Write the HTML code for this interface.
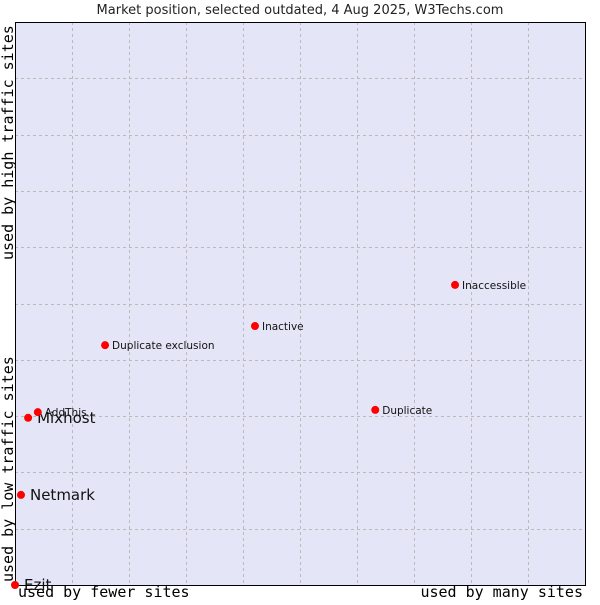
<!DOCTYPE html>
<html><head><meta charset="utf-8"><style>
body{margin:0;background:#fff;width:600px;height:600px;overflow:hidden}
svg text{font-family:"DejaVu Sans","Liberation Sans",sans-serif}
.mono{font-family:"DejaVu Sans Mono","Liberation Mono",monospace;font-size:15px}
</style></head><body>
<svg id="chart" width="600" height="600" xmlns="http://www.w3.org/2000/svg">
<text x="300" y="14" text-anchor="middle" font-size="13" fill="#222">Market position, selected outdated, 4 Aug 2025, W3Techs.com</text>
<rect x="15" y="22" width="570" height="563" fill="#e4e6f8"/>
<g id="grid"></g>
<rect x="15.5" y="22.5" width="570" height="563" fill="none" stroke="#000"/>
<text class="mono" x="18" y="597">used by fewer sites</text>
<text class="mono" x="583" y="597" text-anchor="end">used by many sites</text>
<text class="mono" transform="translate(13,582) rotate(-90)">used by low traffic sites</text>
<text class="mono" transform="translate(13,260) rotate(-90)">used by high traffic sites</text>
<g id="points"></g>
</svg>
<script>
const names=["Ezit","Netmark","Mixhost","AddThis","Duplicate exclusion","Inactive","Duplicate","Inaccessible"];
const xVals=[0,1.05,2.3,4.0,15.8,42.1,63.2,77.2];
const yVals=[0,16,29.7,30.7,42.6,46,31.1,53.3];
const bigLabel=[true,true,true,false,false,false,false,false];
const L=15,T=22,W=570,H=563;
const sx=v=>L+v/100*W, sy=v=>T+H-v/100*H;
const NS="http://www.w3.org/2000/svg";
const g=document.getElementById('grid');
for(let i=1;i<10;i++){
  const x=Math.round(sx(i*10))+0.5, y=Math.round(sy(i*10))+0.5;
  const a=document.createElementNS(NS,'line');
  
  
  a.setAttribute('x1',x);a.setAttribute('x2',x);a.setAttribute('y1',T);a.setAttribute('y2',T+H);
  a.setAttribute('stroke','#bbb');a.setAttribute('stroke-dasharray','3,3');g.appendChild(a);
  const b=document.createElementNS(NS,'line');
  
  
  b.setAttribute('x1',L);b.setAttribute('x2',L+W);b.setAttribute('y1',y);b.setAttribute('y2',y);
  b.setAttribute('stroke','#bbb');b.setAttribute('stroke-dasharray','3,3');g.appendChild(b);
}
const p=document.getElementById('points');
names.forEach((n,i)=>{
  const x=sx(xVals[i]),y=sy(yVals[i]);
  const d=document.createElementNS(NS,'circle');
  
  
  d.setAttribute('cx',x);d.setAttribute('cy',y);d.setAttribute('r',4);
  d.setAttribute('fill','#f00');p.appendChild(d);
  const t=document.createElementNS(NS,'text');
  
  
  const big=bigLabel[i];
  t.setAttribute('x',x+(big?9:7));t.setAttribute('y',y+(big?5:4));
  t.setAttribute('font-size',big?15:10.5);t.setAttribute('fill','#111');
  t.textContent=n;p.appendChild(t);
});
</script>
</body></html>
